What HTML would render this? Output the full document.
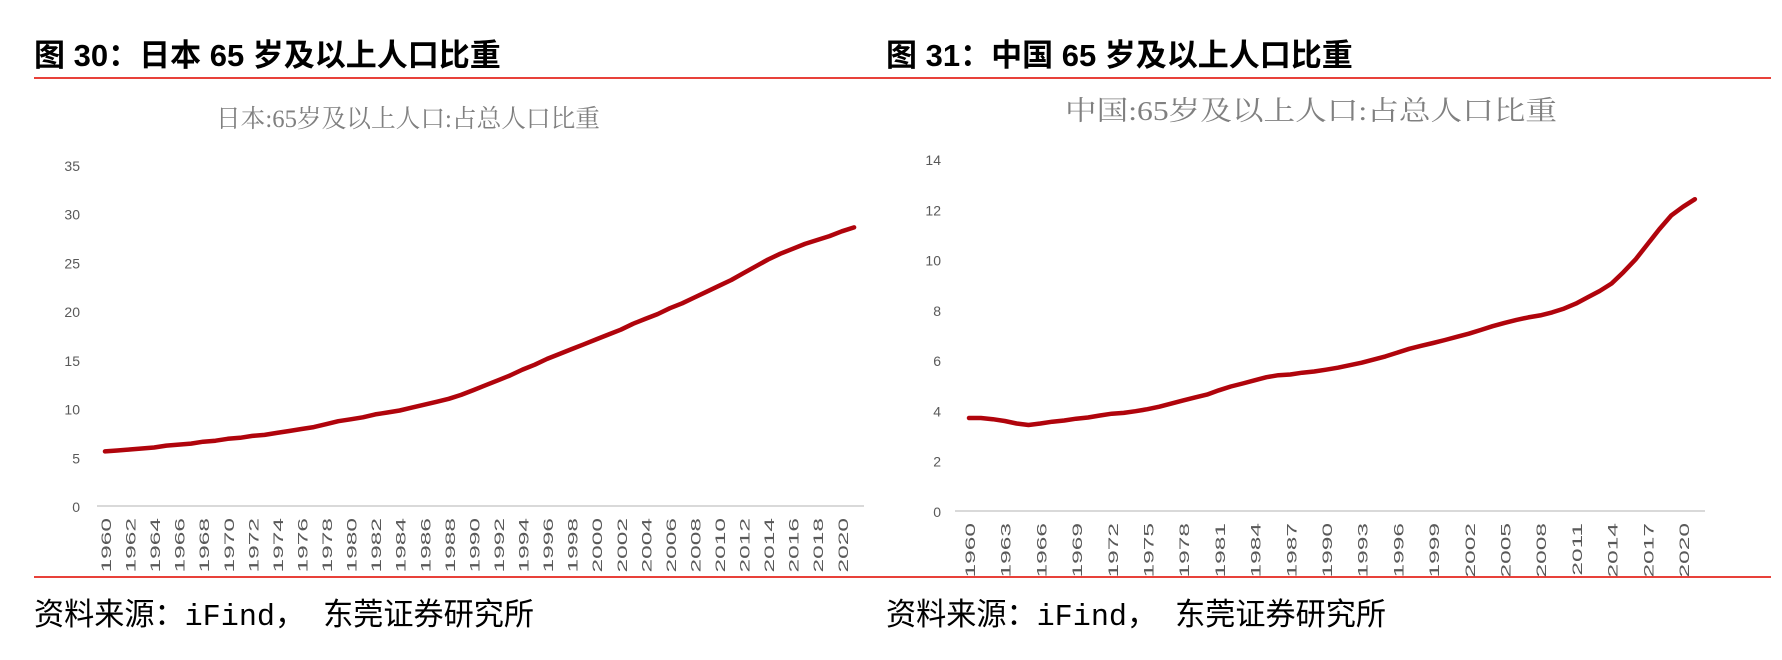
<!DOCTYPE html>
<html><head><meta charset="utf-8"><style>
html,body{margin:0;padding:0;background:#fff;width:1782px;height:660px;overflow:hidden}
svg{display:block}
.h{font-family:"Liberation Sans","Noto Sans CJK SC",sans-serif;font-size:31px;font-weight:bold;fill:#000}
.s{font-family:"Liberation Mono","Noto Sans CJK SC",monospace;font-size:31px;fill:#000}
.ct{font-family:"Liberation Serif","Noto Serif CJK SC",serif;fill:#808080}
.tk{font-family:"Liberation Sans",sans-serif;font-size:14px;fill:#595959}
</style></head><body>
<svg id="svg" width="1782" height="660" viewBox="0 0 1782 660">
<text class="h" x="34" y="66">图 30：日本 65 岁及以上人口比重</text>
<text class="h" x="886" y="66">图 31：中国 65 岁及以上人口比重</text>
<line x1="34" y1="78" x2="1771" y2="78" stroke="#e8413a" stroke-width="2"/>
<line x1="34" y1="577" x2="1771" y2="577" stroke="#e8413a" stroke-width="2"/>
<text class="s" x="34" y="625" textLength="500" lengthAdjust="spacingAndGlyphs">资料来源：iFind， 东莞证券研究所</text>
<text class="s" x="886" y="625" textLength="500" lengthAdjust="spacingAndGlyphs">资料来源：iFind， 东莞证券研究所</text>
<text class="ct" x="216" y="127" font-size="25" textLength="384" lengthAdjust="spacingAndGlyphs">日本:65岁及以上人口:占总人口比重</text>
<text class="ct" x="1065" y="120" font-size="27" textLength="492" lengthAdjust="spacingAndGlyphs">中国:65岁及以上人口:占总人口比重</text>
<g id="jp"></g><g id="cn"></g>
</svg>
<script>
const years = []; for (let y = 1960; y <= 2021; y++) years.push(y);
const japanValues = [5.6,5.7,5.8,5.9,6.0,6.2,6.3,6.4,6.6,6.7,
 6.9,7.0,7.2,7.3,7.5,7.7,7.9,8.1,8.4,8.7,
 8.9,9.1,9.4,9.6,9.8,10.1,10.4,10.7,11.0,11.4,
 11.9,12.4,12.9,13.4,14.0,14.5,15.1,15.6,16.1,16.6,
 17.1,17.6,18.1,18.7,19.2,19.7,20.3,20.8,21.4,22.0,
 22.6,23.2,23.9,24.6,25.3,25.9,26.4,26.9,27.3,27.7,
 28.2,28.6];
const chinaValues = [3.7,3.7,3.65,3.58,3.48,3.42,3.48,3.55,3.6,3.67,
 3.72,3.8,3.87,3.9,3.97,4.05,4.15,4.27,4.4,4.52,
 4.63,4.8,4.95,5.07,5.2,5.32,5.4,5.43,5.5,5.55,
 5.62,5.7,5.8,5.9,6.02,6.15,6.3,6.45,6.57,6.68,
 6.8,6.93,7.05,7.2,7.35,7.48,7.6,7.7,7.78,7.9,
 8.05,8.25,8.5,8.75,9.05,9.5,10.0,10.6,11.2,11.75,
 12.1,12.4];
const japanTicks = [0,5,10,15,20,25,30,35];
const chinaTicks = [0,2,4,6,8,10,12,14];
const NS = "http://www.w3.org/2000/svg";
function mk(parent, tag, attrs) {
  const e = document.createElementNS(NS, tag);
  for (const k in attrs) e.setAttribute(k, attrs[k]);
  parent.appendChild(e); return e;
}
function chart(gid, vals, ticks, cfg) {
  const g = document.getElementById(gid);
  const x = i => cfg.x0 + i * cfg.step;
  const max = ticks[ticks.length - 1];
  const y = v => cfg.yb - (v / max) * (cfg.yb - cfg.yt);
  ticks.forEach(t => {
    const tx = mk(g, "text", {x: cfg.lx, y: y(t) + 6, "text-anchor": "end", class: "tk", "font-size": cfg.yfs});
    
    
    tx.textContent = t;
  });
  const ax = mk(g, "line", {x1: cfg.ax0, x2: cfg.ax1, y1: cfg.yb, y2: cfg.yb, stroke: "#d9d9d9", "stroke-width": 2});
  
  
  years.forEach((yr, i) => {
    if ((yr - 1960) % cfg.every) return;
    const tx = mk(g, "text", {x: 0, y: 0, class: "tk", "text-anchor": "end",
      transform: `translate(${x(i) + 6},${cfg.yb + 12}) rotate(-90) scale(1.75,1)`});
    
    
    tx.textContent = yr;
  });
  const d = vals.map((v, i) => (i ? "L" : "M") + x(i).toFixed(1) + "," + y(v).toFixed(1)).join(" ");
  const p = mk(g, "path", {d: d, fill: "none", stroke: "#b0040c", "stroke-width": 4.5, "stroke-linejoin": "round", "stroke-linecap": "round"});
  
  
}
chart("jp", japanValues, japanTicks, {x0: 105, step: 12.28, yt: 165, yb: 506, lx: 80, ax0: 97, ax1: 864, every: 2, yfs: 15, name: "japan-series-line"});
chart("cn", chinaValues, chinaTicks, {x0: 969, step: 11.9, yt: 159, yb: 511, lx: 941, ax0: 955, ax1: 1705, every: 3, yfs: 17, name: "china-series-line"});
</script>
</body></html>
